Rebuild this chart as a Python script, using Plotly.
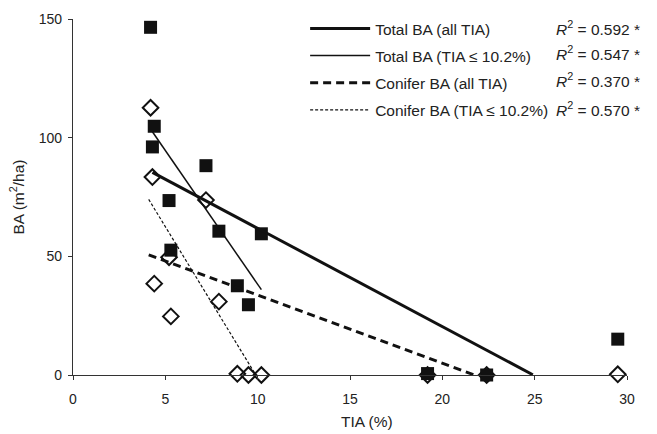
import plotly.graph_objects as go

# ---- data ----
tia = [4.2, 4.4, 4.3, 7.2, 5.2, 5.3, 7.9, 10.2, 8.9, 9.5, 19.2, 22.4, 29.5]
total_ba = [146.5, 104.8, 96.1, 88.2, 73.5, 52.6, 60.6, 59.5, 37.6, 29.6, 0.6, 0.0, 15.1]
conifer_ba = [112.6, 38.5, 83.4, 73.7, 49.6, 24.7, 30.9, 0.0, 0.5, 0.0, 0.0, 0.0, 0.3]

fit_names = ["Total BA (all TIA)", "Total BA (TIA ≤ 10.2%)",
             "Conifer BA (all TIA)", "Conifer BA (TIA ≤ 10.2%)"]
fit_slopes = [-4.14, -11.28, -2.87, -12.76]
fit_intercepts = [103.2, 151.0, 62.4, 126.3]
fit_x_start = [4.3, 4.3, 4.1, 4.1]
fit_x_end = [24.9, 10.2, 21.7, 9.9]
fit_r2 = ["0.592", "0.547", "0.370", "0.570"]

x_ticks = [0, 5, 10, 15, 20, 25, 30]
y_ticks = [0, 50, 100, 150]

# ---- styles ----
fit_widths = [3, 1.5, 3, 1.2]
fit_dashes = ["solid", "solid", "8px,5px", "3px,2px"]
FONT = "Liberation Sans, Arial, sans-serif"

fig = go.Figure()

fig.add_trace(go.Scatter(
    x=tia, y=conifer_ba, mode="markers", showlegend=False,
    marker=dict(symbol="diamond-open", size=12, color="#111",
                line=dict(width=2, color="#111")),
    cliponaxis=False))
fig.add_trace(go.Scatter(
    x=tia, y=total_ba, mode="markers", showlegend=False,
    marker=dict(symbol="square", size=13, color="#111",
                line=dict(width=0)),
    cliponaxis=False))

for i, name in enumerate(fit_names):
    xs = [fit_x_start[i], fit_x_end[i]]
    ys = [fit_intercepts[i] + fit_slopes[i] * x for x in xs]
    fig.add_trace(go.Scatter(
        x=xs, y=ys, mode="lines", name=name, legendgroup=str(i),
        line=dict(color="#111", width=fit_widths[i], dash=fit_dashes[i]),
        cliponaxis=False))

row_y = [0.975, 0.904, 0.828, 0.746]
for i, r2 in enumerate(fit_r2):
    fig.add_annotation(
        x=1.027, y=row_y[i], xref="paper", yref="paper",
        xanchor="right", yanchor="middle", showarrow=False,
        text="<i>R</i><sup>2</sup> = " + r2 + " *",
        font=dict(family=FONT, size=15.5, color="#222"))

fig.add_annotation(
    x=0.531, y=-0.131, xref="paper", yref="paper",
    xanchor="center", yanchor="middle", showarrow=False,
    text="TIA (%)", font=dict(family=FONT, size=15.5, color="#222"))

fig.update_layout(
    width=657, height=434,
    margin=dict(l=73, r=30, t=12, b=59),
    paper_bgcolor="white", plot_bgcolor="white",
    font=dict(family=FONT, size=14, color="#222"),
    showlegend=True,
    legend=dict(x=0.419, y=1.02, xanchor="left", yanchor="top",
                bgcolor="rgba(0,0,0,0)", traceorder="grouped",
                tracegroupgap=4, itemwidth=60,
                font=dict(size=15.5, color="#222")),
    xaxis=dict(range=[0, 30], tickvals=x_ticks, showgrid=False, zeroline=False,
               showline=True, linecolor="#333", linewidth=1.2,
               ticks="outside", ticklen=4, tickcolor="#333",
               ticklabelstandoff=7, automargin=False),
    yaxis=dict(range=[0, 150], tickvals=y_ticks, showgrid=False, zeroline=False,
               showline=True, linecolor="#333", linewidth=1.2,
               ticks="outside", ticklen=4, tickcolor="#333",
               ticklabelstandoff=3, automargin=False,
               title=dict(text="BA (m<sup>2</sup>/ha)", standoff=10,
                          font=dict(size=15.5, color="#222"))),
)

fig.write_html("out.html")
